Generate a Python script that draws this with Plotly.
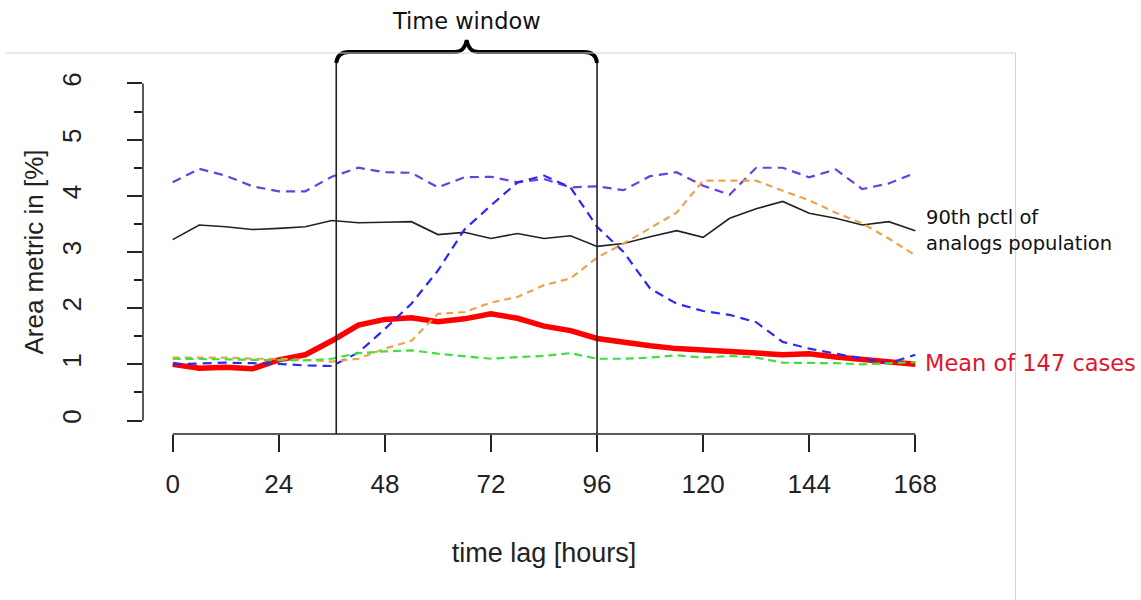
import plotly.graph_objects as go

# ---------------- data ----------------
hours = list(range(0, 169, 6))
x_ticks = [0, 24, 48, 72, 96, 120, 144, 168]
y_ticks = [0, 1, 2, 3, 4, 5, 6]
y_minor = [0.5, 1.5, 2.5, 3.5, 4.5, 5.5]

pctl90 = [3.22, 3.48, 3.45, 3.40, 3.42, 3.45, 3.56, 3.52, 3.53, 3.54, 3.31, 3.35, 3.24, 3.33, 3.24,
          3.29, 3.10, 3.15, 3.27, 3.38, 3.26, 3.60, 3.77, 3.90, 3.69, 3.60, 3.48, 3.54, 3.38]
purple = [4.24, 4.48, 4.36, 4.17, 4.08, 4.08, 4.34, 4.50, 4.42, 4.41, 4.15, 4.33, 4.34, 4.24, 4.30,
          4.15, 4.17, 4.10, 4.35, 4.42, 4.18, 4.02, 4.50, 4.50, 4.33, 4.47, 4.12, 4.22, 4.41]
blue = [1.00, 1.02, 1.03, 1.02, 1.01, 0.98, 0.97, 1.21, 1.63, 2.08, 2.67, 3.40, 3.83, 4.24, 4.36,
        4.15, 3.45, 3.00, 2.35, 2.08, 1.95, 1.88, 1.75, 1.40, 1.28, 1.19, 1.10, 1.02, 1.17]
orange = [1.12, 1.12, 1.12, 1.10, 1.10, 1.08, 1.05, 1.10, 1.28, 1.42, 1.90, 1.93, 2.10, 2.20, 2.41,
          2.53, 2.90, 3.15, 3.43, 3.70, 4.27, 4.27, 4.27, 4.09, 3.92, 3.70, 3.51, 3.24, 2.94]
green = [1.10, 1.10, 1.09, 1.08, 1.07, 1.07, 1.10, 1.20, 1.23, 1.25, 1.19, 1.15, 1.10, 1.13, 1.15,
         1.20, 1.10, 1.10, 1.12, 1.16, 1.12, 1.15, 1.12, 1.03, 1.03, 1.02, 1.00, 1.02, 1.04]
mean147 = [1.00, 0.93, 0.95, 0.92, 1.08, 1.17, 1.42, 1.70, 1.80, 1.83, 1.76, 1.81, 1.90, 1.82, 1.68,
           1.60, 1.46, 1.39, 1.33, 1.28, 1.26, 1.23, 1.20, 1.17, 1.19, 1.13, 1.08, 1.03, 1.00]

window_start = 37
window_end = 96

# ---------------- layout geometry ----------------
W, H = 1141, 600
ML, MR, MT, MB = 143, 196, 70, 166
PW, PH = W - ML - MR, H - MT - MB
x_range = [-6.72, 174.72]
y_range = [-0.24, 6.24]
hpp = (x_range[1] - x_range[0]) / PW  # hours per pixel


def py2paper(py):
    return (MT + PH - py) / PH


def px2paper(px):
    return (px - ML) / PW


fig = go.Figure()

fig.add_trace(go.Scatter(x=hours, y=mean147, mode="lines", line=dict(color="#ff0000", width=5.5),
                         name="Mean of 147 cases"))
fig.add_trace(go.Scatter(x=hours, y=pctl90, mode="lines", line=dict(color="#222222", width=1.6),
                         name="90th pctl"))
fig.add_trace(go.Scatter(x=hours, y=purple, mode="lines",
                         line=dict(color="#6a3ee0", width=2.2, dash="9px,6px"), name="case A"))
fig.add_trace(go.Scatter(x=hours, y=blue, mode="lines",
                         line=dict(color="#2a2af0", width=2.2, dash="9px,6px"), name="case B"))
fig.add_trace(go.Scatter(x=hours, y=orange, mode="lines",
                         line=dict(color="#eba44a", width=2.2, dash="7px,5px"), name="case C"))
fig.add_trace(go.Scatter(x=hours, y=green, mode="lines",
                         line=dict(color="#3ee03e", width=2.2, dash="8px,5px"), name="case D"))

axis_col = "#222222"
shapes = []
# x axis line (first to last tick)
shapes.append(dict(type="line", xref="x", yref="paper", x0=x_ticks[0], x1=x_ticks[-1], y0=0, y1=0,
                   line=dict(color=axis_col, width=1.5)))
# y axis line
shapes.append(dict(type="line", xref="paper", yref="y", x0=0, x1=0, y0=y_ticks[0], y1=y_ticks[-1],
                   line=dict(color=axis_col, width=1.5)))
# time window verticals
top_p = py2paper(63)
for xv in (window_start, window_end):
    shapes.append(dict(type="line", xref="x", yref="paper", x0=xv, x1=xv, y0=0, y1=top_p,
                       line=dict(color=axis_col, width=1.6)))
# curly brace
L, R = window_start, window_end
M = (L + R) / 2
yb, yh, yt = py2paper(63), py2paper(52), py2paper(40)
d = lambda p: p * hpp
path = (f"M {L},{yb} Q {L + d(1)},{yh} {L + d(13)},{yh} L {M - d(12)},{yh} "
        f"Q {M - d(2)},{yh} {M},{yt} Q {M + d(2)},{yh} {M + d(12)},{yh} "
        f"L {R - d(13)},{yh} Q {R - d(1)},{yh} {R},{yb}")
shapes.append(dict(type="path", xref="x", yref="paper", path=path,
                   line=dict(color="#000000", width=3.8)))
# light frame of the source image
shapes.append(dict(type="line", xref="paper", yref="paper", x0=px2paper(5), x1=px2paper(1016),
                   y0=py2paper(53), y1=py2paper(53), line=dict(color="#d6d6d6", width=1)))
shapes.append(dict(type="line", xref="paper", yref="paper", x0=px2paper(1015.5), x1=px2paper(1015.5),
                   y0=py2paper(53), y1=py2paper(600), line=dict(color="#d6d6d6", width=1)))

annotations = [
    dict(text="Time window", xref="x", yref="paper", x=M, y=py2paper(21), showarrow=False,
         xanchor="center", yanchor="middle", font=dict(family="DejaVu Sans", size=22.5, color="#111111")),
    dict(text="90th pctl of", xref="x", yref="y", x=170.0, y=3.62, showarrow=False,
         xanchor="left", yanchor="middle", font=dict(family="DejaVu Sans", size=19.5, color="#111111")),
    dict(text="analogs population", xref="x", yref="y", x=170.0, y=3.15, showarrow=False,
         xanchor="left", yanchor="middle", font=dict(family="DejaVu Sans", size=19.5, color="#111111")),
    dict(text="Mean of 147 cases", xref="x", yref="y", x=169.8, y=1.03, showarrow=False,
         xanchor="left", yanchor="middle", font=dict(family="DejaVu Sans", size=22.5, color="#e0142e")),
]

fig.update_layout(
    width=W, height=H, autosize=False,
    margin=dict(l=ML, r=MR, t=MT, b=MB, pad=0),
    paper_bgcolor="white", plot_bgcolor="white",
    showlegend=False,
    shapes=shapes, annotations=annotations,
    font=dict(family="Liberation Sans", size=26, color="#222222"),
)
fig.update_xaxes(
    range=x_range, tickmode="array", tickvals=x_ticks, ticktext=[str(v) for v in x_ticks],
    ticks="outside", ticklen=17, tickwidth=1.5, tickcolor=axis_col,
    showline=False, showgrid=False, zeroline=False,
    tickfont=dict(family="Liberation Sans", size=26, color="#222222"),
    ticklabelstandoff=10,
    title=dict(text="time lag [hours]", font=dict(family="Liberation Sans", size=27, color="#222222"),
               standoff=44),
)
fig.update_yaxes(
    range=y_range, tickmode="array", tickvals=y_ticks, ticktext=[str(v) for v in y_ticks],
    ticks="outside", ticklen=15, tickwidth=1.5, tickcolor=axis_col, tickangle=-90,
    minor=dict(tickmode="array", tickvals=y_minor, ticks="outside", ticklen=8, tickwidth=1.5,
               tickcolor=axis_col, showgrid=False),
    showline=False, showgrid=False, zeroline=False,
    tickfont=dict(family="Liberation Sans", size=26, color="#222222"),
    ticklabelstandoff=36,
    title=dict(text="Area metric in [%]", font=dict(family="Liberation Sans", size=26, color="#222222"),
               standoff=5),
)

fig.write_html("out.html")
